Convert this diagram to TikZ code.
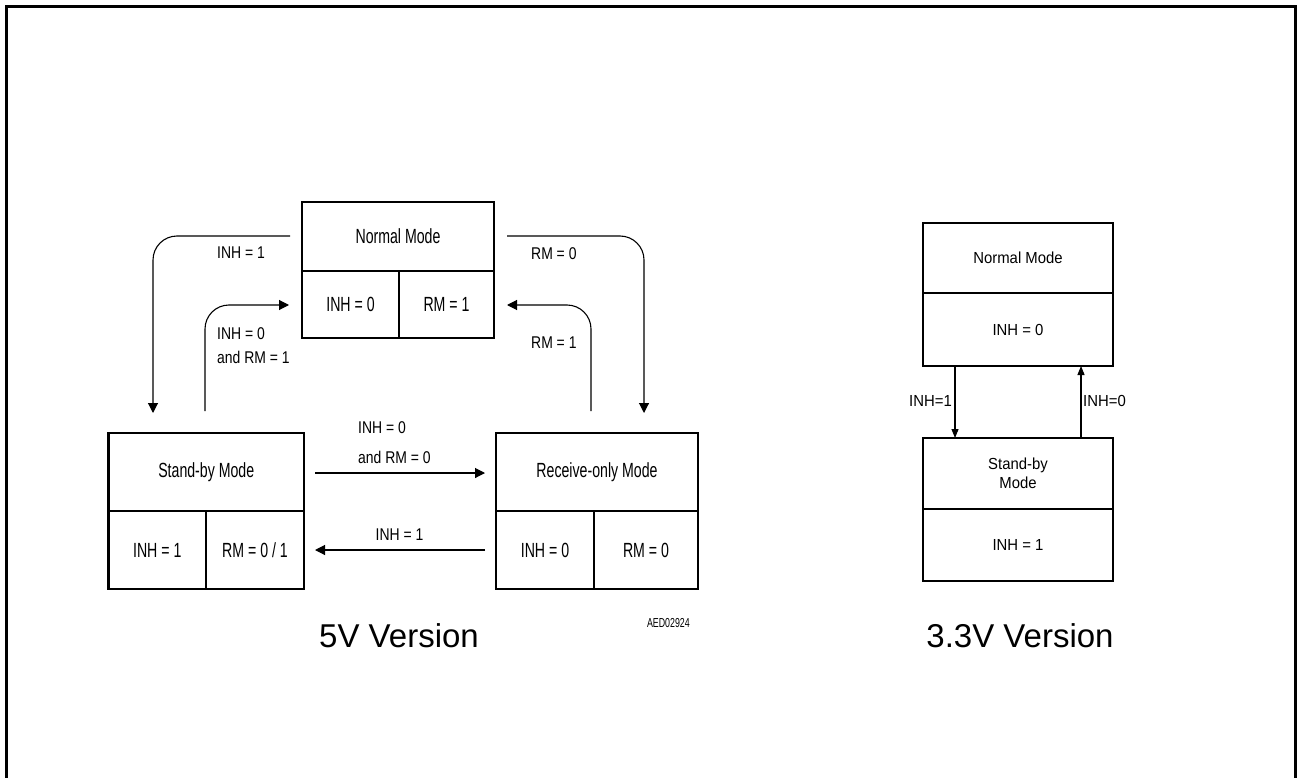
\documentclass[tikz,border=0pt]{standalone}
\usepackage{fontspec}
\setmainfont{Liberation Sans}
\newfontfamily\boxfont[FakeStretch=0.69]{Liberation Sans}
\newfontfamily\lblfont[FakeStretch=0.82]{Liberation Sans}
\newfontfamily\rfont[FakeStretch=0.93]{Liberation Sans}
\newfontfamily\tagfont[FakeStretch=0.68]{Liberation Sans}
\usetikzlibrary{arrows.meta,calc}
\tikzset{
  cell/.style={draw, line width=2.5pt, inner sep=0pt, outer sep=0pt,
    font=\boxfont\fontsize{20.5}{24}\selectfont},
  rcell/.style={cell, font=\rfont\fontsize{16}{20}\selectfont, align=center},
  lbl/.style={inner sep=0pt, font=\lblfont\fontsize{17}{20}\selectfont},
  rlbl/.style={inner sep=0pt, font=\rfont\fontsize{16}{20}\selectfont},
  arr/.style={-{Triangle[length=10pt,width=10pt]}, line width=1.1pt, rounded corners=24pt},
  rarr/.style={-{Triangle[length=9pt,width=7pt]}, line width=1.1pt},
  title/.style={inner sep=0pt, font=\fontsize{33}{38}\selectfont}
}
\begin{document}
\begin{tikzpicture}[x=1pt,y=-1pt]
\useasboundingbox (0,0) rectangle (1297,778);
\draw[line width=3pt] (6.5,778) -- (6.5,6.5) -- (1295.5,6.5) -- (1295.5,778);

% ---- 5V version ----
\node[cell, minimum width=192pt, minimum height=69pt] (nmT) at (398,236.5) {Normal Mode};
\node[cell, minimum width=97pt, minimum height=67pt] (nmA) at (350.5,304.5) {INH = 0};
\node[cell, minimum width=95pt, minimum height=67pt] (nmB) at (446.5,304.5) {RM = 1};

\node[cell, minimum width=195.5pt, minimum height=78pt] (sbT) at (206.25,472) {Stand-by Mode};
\node[cell, minimum width=97.5pt, minimum height=78pt] (sbA) at (157.25,550) {INH = 1};
\node[cell, minimum width=98pt, minimum height=78pt] (sbB) at (255,550) {RM = 0 / 1};

\node[cell, minimum width=202pt, minimum height=78pt] (roT) at (597,472) {Receive-only Mode};
\node[cell, minimum width=98pt, minimum height=78pt] (roA) at (545,550) {INH = 0};
\node[cell, minimum width=104pt, minimum height=78pt] (roB) at (646,550) {RM = 0};

% free ends of connectors
\coordinate (a1s) at (290,236);   \coordinate (a1e) at (153,413);
\coordinate (a2s) at (205,411);   \coordinate (a2e) at (289,305);
\coordinate (a3s) at (507,236);   \coordinate (a3e) at (644,413);
\coordinate (a4s) at (591,411);   \coordinate (a4e) at (507,305);
\coordinate (a5s) at (315,473);   \coordinate (a5e) at (485,473);
\coordinate (a6s) at (485,550);   \coordinate (a6e) at (315,550);

\draw[arr] (a1s) -| (a1e);
\draw[arr] (a2s) |- (a2e);
\draw[arr] (a3s) -| (a3e);
\draw[arr] (a4s) |- (a4e);
\draw[arr] (a5s) -- (a5e);
\draw[arr] (a6s) -- (a6e);

\node[lbl, anchor=west] (l1) at (217,253) {INH = 1};
\node[lbl, anchor=west] (l2a) at (217,334) {INH = 0};
\node[lbl, anchor=west] (l2b) at (217,357) {and RM = 1};
\node[lbl, anchor=west] (l3) at (531,254) {RM = 0};
\node[lbl, anchor=west] (l4) at (531,343) {RM = 1};
\node[lbl, anchor=west] (l5a) at (358,428) {INH = 0};
\node[lbl, anchor=west] (l5b) at (358,457) {and RM = 0};
\node[lbl] (l6) at (399.5,535) {INH = 1};
\node[inner sep=0pt, anchor=east, font=\tagfont\fontsize{13}{15}\selectfont] (tag) at (690,623) {AED02924};

\node[title] (t5) at (399,636) {5V Version};

% ---- 3.3V version ----
\node[rcell, minimum width=190pt, minimum height=70pt] (rnT) at (1018,258) {Normal Mode};
\node[rcell, minimum width=190pt, minimum height=73pt] (rnB) at (1018,329.5) {INH = 0};
\node[rcell, minimum width=190pt, minimum height=71pt] (rsT) at (1018,473.5) {Stand-by\\[-1pt]Mode};
\node[rcell, minimum width=190pt, minimum height=72pt] (rsB) at (1018,545) {INH = 1};

\coordinate (xd) at (955,0);
\coordinate (xu) at (1081,0);
\draw[rarr] (rnB.south -| xd) -- (rsT.north -| xd);
\draw[rarr] (rsT.north -| xu) -- (rnB.south -| xu);

\node[rlbl, anchor=east] (r1) at (952,401) {INH=1};
\node[rlbl, anchor=west] (r2) at (1083,401) {INH=0};

\node[title] (t33) at (1020,636) {3.3V Version};
\end{tikzpicture}
\end{document}
